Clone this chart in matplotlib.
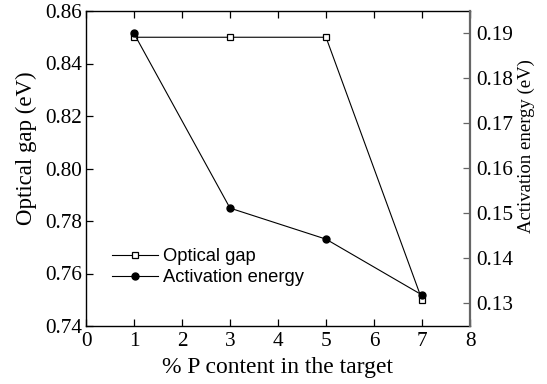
import matplotlib
matplotlib.use("Agg")
import matplotlib.pyplot as plt

p_content = [1, 3, 5, 7]
optical_gap = [0.850, 0.850, 0.850, 0.750]
activation_energy = [0.1899, 0.1511, 0.1442, 0.1318]

serif = ["Liberation Serif", "DejaVu Serif"]
sans = ["Liberation Sans", "DejaVu Sans"]

fig = plt.figure(figsize=(5.47, 3.84), dpi=100)
ax = fig.add_axes([86/547, 1 - 326/384, (470-86)/547, (326-11)/384])
ax2 = ax.twinx()

l1, = ax.plot(p_content, optical_gap, color="black", lw=0.8, marker="s",
              ms=4.2, mfc="white", mec="black", mew=0.9, label="Optical gap")
l2, = ax2.plot(p_content, activation_energy, color="black", lw=0.8, marker="o",
               ms=5.0, mfc="black", mec="black", label="Activation energy")

ax.set_xlim(0, 8)
ax.set_ylim(0.74, 0.86)
ax.set_yticks([0.74, 0.76, 0.78, 0.80, 0.82, 0.84, 0.86])
ax.set_yticklabels(["0.74", "0.76", "0.78", "0.80", "0.82", "0.84", "0.86"])
ax.set_xticks(range(0, 9))
ax2.set_ylim(0.1249, 0.1949)
ax2.set_yticks([0.13, 0.14, 0.15, 0.16, 0.17, 0.18, 0.19])
ax2.set_yticklabels(["0.13", "0.14", "0.15", "0.16", "0.17", "0.18", "0.19"])

ax.tick_params(axis="both", direction="in", length=5, width=0.9, labelsize=15.3,
               top=True, pad=3)
ax.tick_params(axis="x", pad=4)
ax2.tick_params(axis="y", direction="in", length=5, width=0.9, labelsize=15.3,
                color="#666666", pad=4.5)
for lab in ax.get_xticklabels() + ax.get_yticklabels() + ax2.get_yticklabels():
    lab.set_fontfamily(serif)

for s in ["left", "top", "bottom"]:
    ax.spines[s].set_linewidth(1.0)
ax2.spines["right"].set_color("#666666")
ax2.spines["right"].set_linewidth(1.6)
ax.spines["right"].set_visible(False)
for s in ["left", "top", "bottom"]:
    ax2.spines[s].set_visible(False)

ax.set_xlabel("% P content in the target", fontsize=17, family=serif, labelpad=5)
ax.set_ylabel("Optical gap (eV)", fontsize=16.5, family=serif)
ax.yaxis.set_label_coords(-0.128, 0.565)
ax2.set_ylabel("Activation energy (eV)", fontsize=13.5, family=serif)
ax2.yaxis.set_label_coords(1.123, 0.57)

leg = ax.legend([l1, l2], ["Optical gap", "Activation energy"],
                loc="lower left", bbox_to_anchor=(0.068, 0.127), frameon=False,
                prop={"family": sans, "size": 13.2}, handlelength=2.5,
                handletextpad=0.27, labelspacing=0.22, borderaxespad=0,
                borderpad=0)

fig.savefig("out.png", dpi=100)
